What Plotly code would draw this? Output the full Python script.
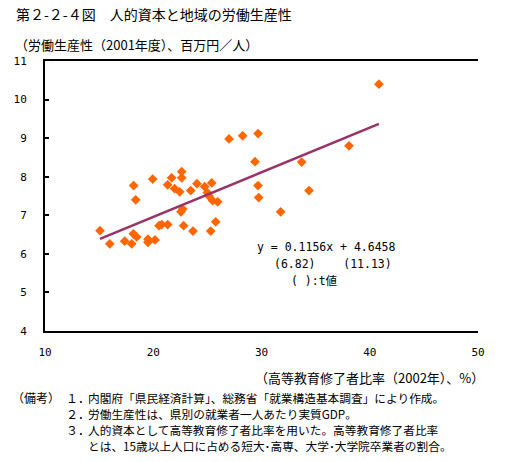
import plotly.graph_objects as go

# Data
edu_ratio = [27.0, 28.26, 29.68, 29.40, 18.19, 18.38, 19.95, 21.70, 22.63, 22.63,
             21.33, 21.98, 22.44, 23.46, 24.04, 24.75, 25.40, 24.99, 25.15, 25.49,
             25.95, 29.68, 29.74, 22.72, 22.56, 25.77, 20.53, 20.78, 21.33, 22.81,
             23.67, 25.31, 18.16, 18.47, 18.01, 19.51, 19.51, 20.16, 15.08, 15.98,
             17.36, 31.77, 33.71, 34.39, 38.08, 40.85]
productivity = [8.98, 9.06, 9.12, 8.39, 7.77, 7.40, 7.94, 7.97, 8.13, 7.97,
                7.79, 7.69, 7.61, 7.64, 7.82, 7.74, 7.84, 7.59, 7.50, 7.38,
                7.35, 7.77, 7.46, 7.16, 7.09, 6.83, 6.73, 6.76, 6.76, 6.73,
                6.59, 6.59, 6.52, 6.44, 6.26, 6.38, 6.30, 6.36, 6.60, 6.26,
                6.33, 7.09, 8.38, 7.64, 8.80, 10.40]
slope = 0.1156
intercept = 4.6458
x_ticks = [10, 20, 30, 40, 50]
y_ticks = [4, 5, 6, 7, 8, 9, 10, 11]

title_text = "第２-２-４図　人的資本と地域の労働生産性"
y_title = "（労働生産性（2001年度）、百万円／人）"
x_title = "（高等教育修了者比率（2002年）、%）"
eq_lines = ["y = 0.1156x + 4.6458", "(6.82)    (11.13)", "( ):t値"]
note_head = "（備考）"
note_nums = ["１．", "２．", "３．", ""]
note_lines = ["内閣府「県民経済計算」、総務省「就業構造基本調査」により作成。",
              "労働生産性は、県別の就業者一人あたり実質GDP。",
              "人的資本として高等教育修了者比率を用いた。高等教育修了者比率",
              "とは、15歳以上人口に占める短大･高専、大学･大学院卒業者の割合。"]

W, H = 522, 462
L, R, T, B = 45, 44, 61, 131
pw, ph = W - L - R, H - T - B


def px(xp):
    return (xp - L) / pw


def py(yp):
    return (H - B - yp) / ph


JP = "Noto Sans CJK JP"
MONO = "DejaVu Sans Mono, Noto Sans CJK JP"

x_min, x_max = min(edu_ratio), max(edu_ratio)

fig = go.Figure()
fig.add_trace(go.Scatter(
    x=edu_ratio, y=productivity, mode="markers",
    marker=dict(symbol="diamond", size=7.5, color="#FF6600", line=dict(width=0)),
    showlegend=False, hoverinfo="x+y"))
fig.add_trace(go.Scatter(
    x=[x_min, x_max], y=[slope * x_min + intercept, slope * x_max + intercept],
    mode="lines", line=dict(color="#993366", width=2.5),
    showlegend=False, hoverinfo="skip"))

ann = []
ann.append(dict(text=title_text, x=px(14), y=py(14), xanchor="left", yanchor="middle",
                font=dict(family=JP, size=14, color="black")))
ann.append(dict(text=y_title, x=px(13), y=py(44), xanchor="left", yanchor="middle",
                font=dict(family=JP, size=13, color="black")))
ann.append(dict(text=x_title, x=px(486), y=py(377), xanchor="right", yanchor="middle",
                font=dict(family=JP, size=13, color="black")))

eq_pos = [(255, 247), (272, 264), (289, 281)]
for t, (ex, ey) in zip(eq_lines, eq_pos):
    ann.append(dict(text=t, x=px(ex), y=py(ey), xanchor="left", yanchor="middle",
                    font=dict(family=MONO, size=11.5, color="black")))

note_y = [397, 413, 429, 445]
ann.append(dict(text=note_head, x=px(62), y=py(note_y[0]), xanchor="right", yanchor="middle",
                font=dict(family=JP, size=12, color="black")))
for n, t, ny in zip(note_nums, note_lines, note_y):
    if n:
        ann.append(dict(text=n, x=px(64), y=py(ny), xanchor="left", yanchor="middle",
                        font=dict(family=JP, size=12, color="black")))
    ann.append(dict(text=t, x=px(86), y=py(ny), xanchor="left", yanchor="middle",
                    font=dict(family=JP, size=11.7, color="black")))

for a in ann:
    a.update(xref="paper", yref="paper", showarrow=False)

fig.update_layout(
    width=W, height=H,
    margin=dict(l=L, r=R, t=T, b=B, pad=0),
    paper_bgcolor="white", plot_bgcolor="white",
    annotations=ann,
    xaxis=dict(range=[10, 50], tickvals=x_ticks, ticktext=[str(v) for v in x_ticks],
               showgrid=False, zeroline=False, showline=True, linecolor="black",
               linewidth=2, mirror=True, ticks="", ticklabelstandoff=10,
               tickfont=dict(family=MONO, size=11, color="black")),
    yaxis=dict(range=[4, 11], tickvals=y_ticks, ticktext=[str(v) for v in y_ticks],
               showgrid=False, zeroline=False, showline=True, linecolor="black",
               linewidth=2, mirror=False, ticks="inside", ticklen=4, tickwidth=2,
               tickcolor="black", ticklabelstandoff=14,
               tickfont=dict(family=MONO, size=11, color="black")),
)

fig.write_html("out.html", config={"displayModeBar": False},
               post_script="document.body.style.margin='0';")
